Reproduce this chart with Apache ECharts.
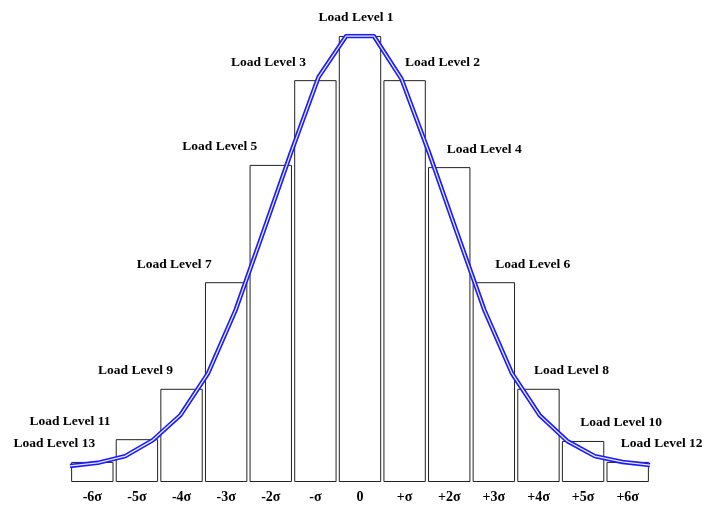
<!DOCTYPE html>
<html>
<head>
<meta charset="utf-8">
<script src="https://cdn.jsdelivr.net/npm/echarts@6/dist/echarts.min.js"></script>
<style>html,body{margin:0;padding:0;background:#fff}#c{width:707px;height:505px}</style>
</head>
<body>
<div id="c"></div>
<script>
// Categories (sigma bins)
const categories = ['-6σ','-5σ','-4σ','-3σ','-2σ','-σ','0','+σ','+2σ','+3σ','+4σ','+5σ','+6σ'];
// Bar heights (relative, peak = 100)
const barValues = [4.5, 9.6, 20.9, 44.8, 71.1, 90.1, 100, 90.1, 70.6, 44.8, 20.9, 9.2, 4.5];
// Load level names per bar
const loadLevels = ['Load Level 13','Load Level 11','Load Level 9','Load Level 7','Load Level 5','Load Level 3','Load Level 1','Load Level 2','Load Level 4','Load Level 6','Load Level 8','Load Level 10','Load Level 12'];
// Normal curve samples (evenly spaced across the chart)
const curveValues = [3.6, 4.3, 5.8, 9.4, 15.0, 24.4, 38.6, 56.1, 73.8, 90.8, 100, 100, 90.4, 73.8, 56.1, 38.6, 24.4, 15.0, 9.2, 5.8, 4.5, 3.8];

// label offsets (style only)
const labelDx = [-38, -67, -46, -52, -51, -47, -4, 38, 35, 39, 33, 38, 34];

const curveIdx = curveValues.map((_, i) => String(i));
const font = '"Liberation Serif", "Times New Roman", serif';

const chart = echarts.init(document.getElementById('c'), null, {renderer: 'canvas'});
chart.setOption({
  animation: false,
  backgroundColor: '#fff',
  grid: {left: 70, right: 57, top: 36, bottom: 23, containLabel: false},
  xAxis: [
    {
      type: 'category', data: categories, boundaryGap: true,
      axisLine: {show: false}, axisTick: {show: false}, splitLine: {show: false},
      axisLabel: {color: '#000', fontFamily: font, fontWeight: 'bold', fontSize: 14, margin: 8}
    },
    {
      type: 'category', data: curveIdx, boundaryGap: false, show: false
    }
  ],
  yAxis: {type: 'value', min: 0, max: 100, show: false},
  series: [
    {
      type: 'bar', xAxisIndex: 0, barCategoryGap: '5%',
      data: barValues.map((v, i) => ({
        value: v,
        label: {
          show: true, position: 'top', distance: 11,
          offset: [labelDx[i], 0],
          formatter: loadLevels[i],
          color: '#000', fontFamily: font, fontWeight: 'bold', fontSize: 13.5
        }
      })),
      itemStyle: {color: 'rgba(255,255,255,0)', borderColor: '#222', borderWidth: 1},
      z: 2
    },
    {
      type: 'line', xAxisIndex: 1, data: curveValues, symbol: 'none', smooth: false,
      lineStyle: {color: '#1a1aff', width: 4.5}, z: 3, silent: true
    },
    {
      type: 'line', xAxisIndex: 1, data: curveValues, symbol: 'none', smooth: false,
      lineStyle: {color: '#e8e8ff', width: 1.3}, z: 4, silent: true
    }
  ]
});
</script>
</body>
</html>
